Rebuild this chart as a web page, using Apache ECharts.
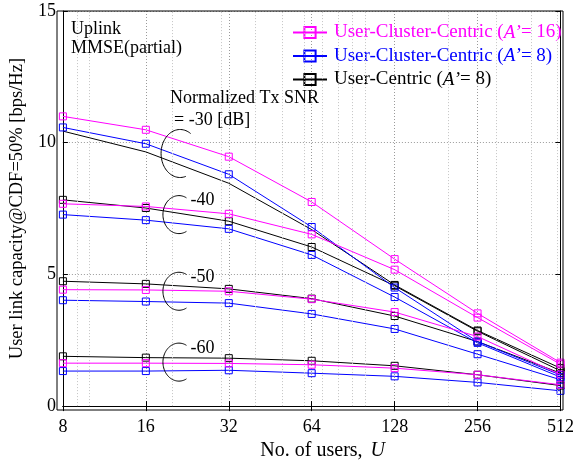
<!DOCTYPE html>
<html><head><meta charset="utf-8">
<script src="https://cdn.jsdelivr.net/npm/echarts@6/dist/echarts.min.js"></script>
<style>html,body{margin:0;padding:0;background:#fff}#c{width:577px;height:466px}</style>
</head><body><div id="c"></div>
<script>
// ---- data ----
const users = [8, 16, 32, 64, 128, 256, 512];
const snrLabels = ['-30', '-40', '-50', '-60'];
const legendNames = ['User-Cluster-Centric (A\u2019= 16)', 'User-Cluster-Centric (A\u2019= 8)', 'User-Centric (A\u2019= 8)'];

const ucc16_30 = [11.00, 10.49, 9.47, 7.75, 5.58, 3.52, 1.65];
const ucc16_40 = [7.68, 7.58, 7.30, 6.52, 5.18, 3.36, 1.59];
const ucc16_50 = [4.42, 4.41, 4.36, 4.06, 3.57, 2.64, 1.20];
const ucc16_60 = [1.63, 1.63, 1.62, 1.57, 1.44, 1.19, 0.81];

const ucc8_30 = [10.58, 9.96, 8.80, 6.80, 4.50, 2.45, 1.18];
const ucc8_40 = [7.27, 7.06, 6.73, 5.74, 4.14, 2.40, 1.10];
const ucc8_50 = [4.02, 3.97, 3.91, 3.50, 2.93, 1.97, 1.00];
const ucc8_60 = [1.33, 1.33, 1.36, 1.25, 1.13, 0.90, 0.58];

const uc8_30 = [10.44, 9.65, 8.46, 6.70, 4.60, 2.87, 1.44];
const uc8_40 = [7.83, 7.52, 7.02, 6.04, 4.57, 2.84, 1.34];
const uc8_50 = [4.74, 4.64, 4.45, 4.08, 3.42, 2.45, 1.25];
const uc8_60 = [1.89, 1.84, 1.82, 1.72, 1.53, 1.19, 0.78];

// points of the User-Centric -30 dB curve drawn without a marker
const uc8_30_noMarker = [true, true, true, true, false, false, false];

const minorXTicks = [9, 10, 20, 30, 40, 50, 60, 70, 80, 90, 100, 200, 300, 400, 500];

// ---- style / layout ----
const FONT = 'Liberation Serif';
const schemes = [
  { name: legendNames[2], color: '#000000', curves: [uc8_30, uc8_40, uc8_50, uc8_60] },
  { name: legendNames[1], color: '#0000ff', curves: [ucc8_30, ucc8_40, ucc8_50, ucc8_60] },
  { name: legendNames[0], color: '#ff00ff', curves: [ucc16_30, ucc16_40, ucc16_50, ucc16_60] }
];

const chart = echarts.init(document.getElementById('c'), null, { renderer: 'canvas' });

const series = [];
schemes.forEach((s, si) => {
  s.curves.forEach((vals, ci) => {
    const ser = {
      name: s.name,
      type: 'line',
      z: 3 + si,
      symbol: 'rect',
      symbolSize: 7,
      showAllSymbol: true,
      itemStyle: { color: 'rgba(255,255,255,0)', borderColor: s.color, borderWidth: 1 },
      lineStyle: { color: s.color, width: 1 },
      emphasis: { disabled: true },
      data: users.map((u, i) => {
        const item = { value: [u, vals[i]] };
        if (si === 0 && ci === 0 && uc8_30_noMarker[i]) item.symbol = 'none';
        return item;
      })
    };
    if (si === 0 && ci === 0) {
      // minor vertical grid lines (log-scale minor ticks)
      ser.markLine = {
        silent: true, symbol: 'none', animation: false, precision: 0,
        label: { show: false },
        lineStyle: { type: [1, 2], color: '#c4c4c4', width: 1 },
        emphasis: { disabled: true },
        data: minorXTicks.map(v => ({ xAxis: v }))
      };
    }
    series.push(ser);
  });
});

const axisCommon = {
  axisLine: { show: true, lineStyle: { color: '#000', width: 1 } },
  axisTick: { show: true, inside: true, length: 5, lineStyle: { color: '#000' } }
};

chart.setOption({
  animation: false,
  backgroundColor: '#fff',
  textStyle: { fontFamily: FONT },
  grid: { left: 57, top: 11, width: 506, height: 399, show: false },
  legend: {
    orient: 'vertical', left: 287, top: 18,
    itemWidth: 34, itemHeight: 14, itemGap: 4.5,
    selectedMode: false,
    data: [
      { name: legendNames[0], textStyle: { color: '#ff00ff' } },
      { name: legendNames[1], textStyle: { color: '#0000ff' } },
      { name: legendNames[2], textStyle: { color: '#000000' } }
    ],
    textStyle: { fontFamily: FONT, fontSize: 19, padding: [0, 0, 0, 2],
      rich: { i: { fontStyle: 'italic', fontFamily: FONT, fontSize: 19 } } },
    formatter: function (n) {
      const parts = n.split('A\u2019');
      return parts[0] + '{i|A\u2019}' + parts[1];
    }
  },
  xAxis: [
    Object.assign({
      type: 'log', logBase: 2, min: 8, max: 512, position: 'bottom',
      name: 'No. of users{c|,} {i|U}', nameLocation: 'middle', nameGap: 33,
      nameTextStyle: { fontFamily: FONT, fontSize: 20, color: '#000', padding: [0, 0, 0, 22],
        rich: { i: { fontStyle: 'italic', fontFamily: FONT, fontSize: 20 }, c: { fontFamily: FONT, fontSize: 20, padding: [0, 3, 0, 0] } } },
      axisLabel: { fontFamily: FONT, fontSize: 18, color: '#000', margin: 12,
        formatter: v => String(Math.round(v)) },
      splitLine: { show: true, lineStyle: { type: [1, 2], color: '#9a9a9a', width: 1 } }
    }, axisCommon),
    Object.assign({
      type: 'log', logBase: 2, min: 8, max: 512, position: 'top',
      axisLabel: { show: false }, splitLine: { show: false }
    }, axisCommon)
  ],
  yAxis: [
    Object.assign({
      type: 'value', min: 0, max: 15, interval: 5, position: 'left',
      name: 'User link capacity@CDF=50% [bps/Hz]', nameLocation: 'middle', nameGap: 31,
      nameTextStyle: { fontFamily: FONT, fontSize: 18.5, color: '#000' },
      axisLabel: { fontFamily: FONT, fontSize: 18, color: '#000', margin: 7 },
      splitLine: { show: true, lineStyle: { type: [1, 2], color: '#9a9a9a', width: 1 } }
    }, axisCommon),
    Object.assign({
      type: 'value', min: 0, max: 15, interval: 5, position: 'right',
      axisLabel: { show: false }, splitLine: { show: false }
    }, axisCommon)
  ],
  series: series
});

// ---- annotations (anchored through the axes) ----
const annot = [
  { label: '-30', x: 21.3, y: 9.59, rx: 19, ry: 24, a0: 72, a1: 305 },
  { label: '-40', x: 21.1, y: 7.27, rx: 16, ry: 19, a0: 62, a1: 300 },
  { label: '-50', x: 21.1, y: 4.36, rx: 16, ry: 19, a0: 62, a1: 300 },
  { label: '-60', x: 21.1, y: 1.67, rx: 16, ry: 19, a0: 62, a1: 300 }
];
const g = [];
const txt = (x, y, s) => ({
  type: 'text', x: x, y: y, silent: true, z: 50,
  style: { text: s, fill: '#000', fontFamily: FONT, fontSize: 18, verticalAlign: 'middle', align: 'left' }
});
annot.forEach((a, k) => {
  const p = chart.convertToPixel({ xAxisIndex: 0, yAxisIndex: 0 }, [a.x, a.y]);
  const pts = [];
  for (let d = a.a0; d <= a.a1 + 0.01; d += 4) {
    const t = d * Math.PI / 180;
    pts.push([p[0] + a.rx * Math.cos(t), p[1] + a.ry * Math.sin(t)]);
  }
  g.push({
    type: 'polyline', silent: true, z: 50,
    shape: { points: pts, smooth: 0.3 },
    style: { stroke: '#000', lineWidth: 1, fill: null }
  });
  if (k === 0) {
    g.push(txt(p[0] - 10, p[1] - 55, 'Normalized Tx SNR'));
    g.push(txt(p[0] - 6, p[1] - 33, '= ' + a.label + ' [dB]'));
  } else {
    g.push(txt(p[0] + 11.5, p[1] - 14, a.label));
  }
});
g.push(txt(71, 29.5, 'Uplink'));
g.push(txt(71, 48.5, 'MMSE(partial)'));
// plot frame
g.push({ type: 'rect', silent: true, z: 40, shape: { x: 57, y: 11, width: 506, height: 399 },
  style: { stroke: '#000', lineWidth: 1, fill: null } });
chart.setOption({ graphic: g });
</script>
</body></html>
